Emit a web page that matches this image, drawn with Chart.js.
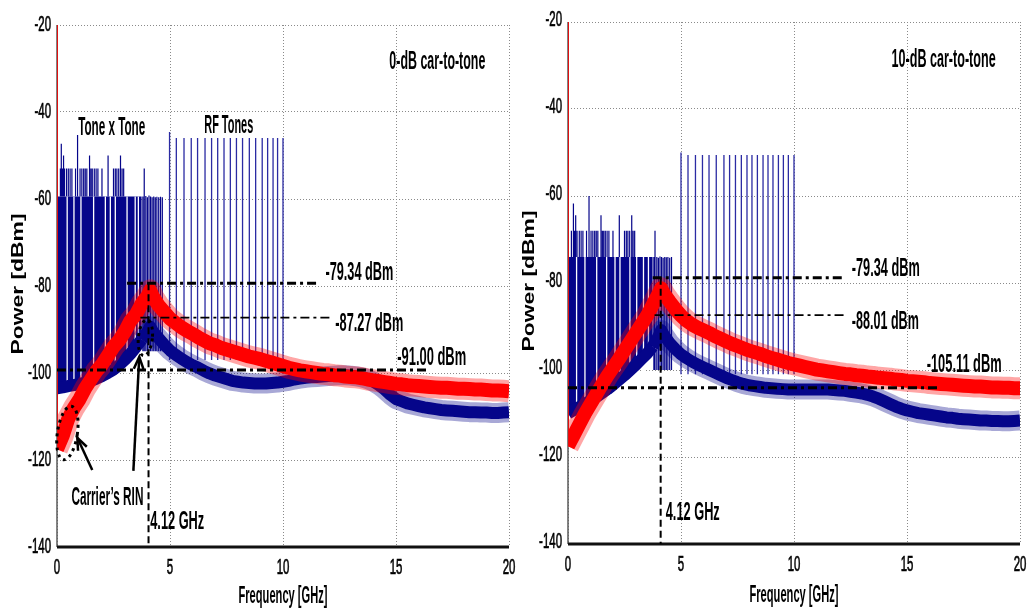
<!DOCTYPE html>
<html>
<head>
<meta charset="utf-8">
<script src="https://cdn.jsdelivr.net/npm/chart.js@4.4.1/dist/chart.umd.min.js"></script>
<style>
  html, body { margin: 0; padding: 0; background: #fff; }
  #wrap { position: relative; width: 1027px; height: 612px; overflow: hidden; background: #fff; }
  canvas { position: absolute; top: 0; }
  #left { left: 0; }
  #right { left: 513px; }
</style>
</head>
<body>
<div id="wrap">
  <canvas id="left" width="520" height="612"></canvas>
  <canvas id="right" width="514" height="612"></canvas>
</div>
<script>
// frequency grid of the spectra, 0.25 GHz steps plus the resonance at 4.12 GHz
const freqGHz = []
for (let i = 0; i <= 80; i++) {
  freqGHz.push(i * 0.25)
  if (i === 16) freqGHz.push(4.12)
}

// 0-dB carrier-to-tone panel, band centres (dBm)
const redLeft = [
  -117.5, -114.5, -110.5, -108, -106, -103.5, -101.5, -99.5, -98, -96, -94, -92.5, -90.5, -88, -86.5, -84, -82.3,
  -81.0,
  -82.5, -84.5, -86, -87.5, -88.5, -89.5, -90.3, -91, -91.8, -92.5, -93.2, -93.6, -94.2, -94.6, -95, -95.4, -95.8, -96.2, -96.5, -96.8, -97.2, -97.6, -98, -98.4,
  -98.8, -99.1, -99.4, -99.6, -99.8, -100, -100.2, -100.3, -100.5, -100.6, -100.8, -100.9, -101, -101.2, -101.5, -101.7, -101.9, -102.1, -102.3, -102.5,
  -102.6, -102.8, -102.9, -103, -103.1, -103.2, -103.3, -103.4, -103.4, -103.5, -103.6, -103.6, -103.7, -103.8, -103.8, -103.9, -104, -104, -104.1, -104.2
]
const blueLeft = [
  -103.5, -103.3, -103, -102.8, -102.5, -102.2, -101.8, -101.3, -100.7, -100, -99.2, -98.2, -97, -95.6, -94, -92.3, -90.5,
  -89.3,
  -90.5, -92, -93.5, -94.8, -95.8, -96.7, -97.5, -98.2, -98.8, -99.5, -100.1, -100.6, -101, -101.4, -101.8, -102, -102.2, -102.3, -102.4, -102.4, -102.4, -102.3, -102.2, -102,
  -101.8, -101.5, -101.3, -101.1, -101, -100.9, -100.8, -100.7, -100.6, -100.5, -100.5, -100.6, -100.8, -101, -101.4, -102, -102.8, -103.8, -105, -106,
  -106.5, -107, -107.3, -107.6, -107.9, -108.1, -108.3, -108.5, -108.6, -108.7, -108.8, -108.9, -109, -109, -109.1, -109.1, -109.2, -109.2, -109.1, -109
]

// 10-dB carrier-to-tone panel
const redRight = [
  -117.5, -115, -112.5, -110, -107.8, -105.6, -103.4, -101.3, -99.4, -97.5, -95.5, -93.5, -91.5, -89.5, -87.5, -85, -82.5,
  -81.2,
  -82.5, -84.3, -86, -87.5, -88.7, -89.6, -90.3, -90.9, -91.5, -92.2, -92.8, -93.4, -94, -94.5, -95, -95.5, -95.9, -96.3, -96.8, -97.2, -97.6, -98, -98.4, -98.7,
  -99, -99.3, -99.6, -99.9, -100.1, -100.3, -100.5, -100.7, -100.9, -101, -101.2, -101.3, -101.5, -101.6, -101.8, -101.9, -102, -102.2, -102.3, -102.5,
  -102.6, -102.7, -102.8, -103, -103.1, -103.2, -103.3, -103.4, -103.5, -103.6, -103.7, -103.8, -103.8, -103.9, -104, -104, -104.1, -104.1, -104.2, -104.2
]
const blueRight = [
  -110, -109.2, -108.5, -107.8, -107, -106.2, -105.3, -104.4, -103.4, -102.3, -101.2, -100, -98.8, -97.5, -96.2, -94.6, -92.3,
  -90.8,
  -92, -93.8, -95.2, -96.4, -97.3, -98.1, -98.8, -99.4, -100, -100.6, -101.2, -101.8, -102.3, -102.8, -103.2, -103.5, -103.7, -103.9, -104.1, -104.2, -104.3, -104.4, -104.5, -104.5,
  -104.5, -104.5, -104.5, -104.5, -104.5, -104.5, -104.6, -104.7, -104.8, -105, -105.2, -105.4, -105.7, -106.1, -106.6, -107.2, -107.8, -108.4, -108.9, -109.3,
  -109.6, -109.9, -110.1, -110.3, -110.5, -110.7, -110.9, -111, -111.2, -111.3, -111.4, -111.5, -111.6, -111.6, -111.7, -111.7, -111.8, -111.8, -111.7, -111.6
]

// RF tones
const rfFreqLeft = [4.98, 5.28, 5.62, 5.94, 6.22, 6.55, 6.84, 7.11, 7.39, 7.67, 7.94, 8.21, 8.51, 8.79, 9.08, 9.32, 9.56, 9.76, 10.0]
const rfLevelLeft = [-44.6, -46, -46, -46, -46, -46, -46, -46, -46, -46, -46, -46, -46, -46, -46, -46, -46, -46, -46]
const rfFreqRight = [5.0, 5.31, 5.64, 5.95, 6.24, 6.56, 6.9, 7.15, 7.41, 7.67, 7.92, 8.14, 8.38, 8.63, 8.85, 9.07, 9.31, 9.53, 9.75, 10.0]
const rfLevelRight = [-50, -50.6, -50.6, -50.6, -50.6, -50.6, -50.6, -50.6, -50.6, -50.6, -50.6, -50.6, -50.6, -50.6, -50.6, -50.6, -50.6, -50.6, -50.6, -50.6]

// tone x tone products: level of the dense block and the lines standing out of it
const blockTopLeft = -59.4
const blockTopRight = -74
const ttFreqLeft = [0.15, 0.19, 0.22, 0.26, 0.29, 0.33, 0.42, 0.5, 0.58, 0.66, 0.82, 0.91, 1.02, 1.1, 1.18, 1.25, 1.32, 1.44, 1.5, 1.56,
  1.65, 1.73, 1.81, 1.99, 2.26, 2.5, 2.58, 2.65, 2.73, 2.81, 2.88, 2.95, 3.8, 3.86,
  3.93, 4.0, 4.07, 4.14, 4.21, 4.28, 4.35, 4.42, 4.5, 4.58, 4.66]
const ttLevelLeft = [-53, -47.3, -53, -53, -50, -53, -53, -53, -53, -53, -53, -45.3, -53, -53, -53, -53, -53, -50, -53, -53,
  -53, -53, -53, -53, -50, -53, -53, -53, -53, -50, -53, -53, -59.4, -53,
  -59.3, -59.6, -59.2, -59.4, -59.6, -59.4, -59.6, -59.5, -59.6, -59.5, -59.6]
const ttFreqRight = [0.15, 0.24, 0.29, 0.34, 0.4, 0.5, 0.58, 0.66, 0.82, 0.93, 1.02, 1.1, 1.18, 1.25, 1.32, 1.46, 1.52, 1.58,
  1.65, 1.73, 1.81, 1.99, 2.27, 2.5, 2.58, 2.65, 2.73, 2.82, 2.88, 2.95, 3.8, 3.85,
  3.93, 4.0, 4.07, 4.14, 4.21, 4.28, 4.35, 4.42, 4.5, 4.58]
const ttLevelRight = [-68, -61.7, -68, -64.4, -68, -68, -68, -68, -68, -60, -68, -68, -68, -68, -68, -64.4, -68, -68,
  -68, -68, -68, -68, -64.4, -68, -68, -68, -68, -64.4, -68, -68, -74, -68,
  -74, -74.2, -73.9, -74, -74.2, -74, -74.1, -74, -74.2, -74]

// white gaps inside the dense tone block
const gapFreqLeft = [0.45, 0.75, 1.06, 1.62, 2.14, 2.36, 2.58, 3.1, 3.46, 3.6]
const gapFreqRight = [0.38, 0.75, 1.27, 1.71, 2.08, 2.3, 2.74, 3.04, 3.34, 3.56]

const FONT = "'Liberation Sans Narrow','Liberation Sans',sans-serif"
const NAVY = "#05058a"
const BLOCK_END = 3.75

function fitText(ctx, str, x, y, size, width, bold, rot) {
  ctx.save()
  ctx.font = (bold ? "bold " : "") + size + "px " + FONT
  const sx = width / ctx.measureText(str).width
  ctx.translate(x, y)
  if (rot) ctx.rotate(rot)
  ctx.scale(sx, 1)
  ctx.textAlign = "center"
  ctx.textBaseline = "middle"
  ctx.fillStyle = "#000"
  ctx.fillText(str, 0, 0)
  ctx.restore()
}

function squeezeText(ctx, str, x, y, size, sx, align) {
  ctx.save()
  ctx.font = size + "px " + FONT
  ctx.translate(x, y)
  ctx.scale(sx, 1)
  ctx.textAlign = align
  ctx.textBaseline = "middle"
  ctx.fillStyle = "#000"
  ctx.strokeStyle = "#000"
  ctx.lineWidth = 0.7
  ctx.fillText(str, 0, 0)
  ctx.strokeText(str, 0, 0)
  ctx.restore()
}

const toneLines = (freqs, levels, floorOf) => {
  const pts = []
  freqs.forEach((f, i) => {
    pts.push({ x: f, y: floorOf(f, levels[i]) }, { x: f, y: levels[i] }, { x: f, y: null })
  })
  return pts
}

const decoPlugin = (p) => ({
  id: "deco",
  beforeDatasetsDraw(chart) {
    const { ctx, chartArea: a } = chart
    ctx.save()
    ctx.strokeStyle = "#5a5a5a"
    ctx.lineWidth = 1.5
    ctx.beginPath()
    ctx.moveTo(a.left, a.top)
    ctx.lineTo(a.left, a.bottom)
    ctx.stroke()
    ctx.strokeStyle = "#111"
    ctx.lineWidth = 3
    ctx.beginPath()
    ctx.moveTo(a.left, a.bottom)
    ctx.lineTo(a.right, a.bottom)
    ctx.stroke()
    ctx.restore()
  },
  afterDatasetsDraw(chart) {
    const { ctx, chartArea: a, scales: { x, y } } = chart
    const px = (f) => x.getPixelForValue(f)
    const py = (v) => y.getPixelForValue(v)
    ctx.save()
    ctx.strokeStyle = "#000"
    ctx.fillStyle = "#000"

    // dash-dot reference levels
    p.refLines.forEach((r) => {
      ctx.lineWidth = r.w
      ctx.setLineDash([9, 4, 3, 4])
      ctx.beginPath()
      ctx.moveTo(px(r.f0), py(r.v))
      ctx.lineTo(px(r.f1), py(r.v))
      ctx.stroke()
    })
    // resonance marker
    ctx.lineWidth = 2
    ctx.setLineDash([7, 4])
    ctx.beginPath()
    ctx.moveTo(px(p.vline.f), py(p.vline.top))
    ctx.lineTo(px(p.vline.f), a.bottom)
    ctx.stroke()

    // dotted ellipses
    ctx.setLineDash([3, 4])
    ctx.lineWidth = 3
    p.ellipses.forEach((e) => {
      ctx.beginPath()
      ctx.ellipse(px(e.f), py(e.v), e.rx, e.ry, e.rot, 0, Math.PI * 2)
      ctx.stroke()
    })
    ctx.setLineDash([])

    // arrows
    ctx.lineWidth = 2.5
    p.arrows.forEach((ar) => {
      const x0 = px(ar.f0), y0 = py(ar.v0), x1 = px(ar.f1), y1 = py(ar.v1)
      const ang = Math.atan2(y1 - y0, x1 - x0)
      ctx.beginPath()
      ctx.moveTo(x0, y0)
      ctx.lineTo(x1, y1)
      ctx.stroke()
      ctx.beginPath()
      ctx.moveTo(x1 - 13 * Math.cos(ang - 0.38), y1 - 13 * Math.sin(ang - 0.38))
      ctx.lineTo(x1, y1)
      ctx.lineTo(x1 - 13 * Math.cos(ang + 0.38), y1 - 13 * Math.sin(ang + 0.38))
      ctx.stroke()
    })

    // annotation texts
    p.texts.forEach((t) => fitText(ctx, t.s, px(t.f), py(t.v), 25, t.w, true))

    // tick labels
    y.ticks.forEach((t) => squeezeText(ctx, String(t.value), a.left - 6, py(t.value) - p.yTickShift, 22, 0.52, "right"))
    x.ticks.forEach((t) => squeezeText(ctx, String(t.value), px(t.value), a.bottom + p.xTickGap, 22, 0.52, "center"))

    // axis titles
    fitText(ctx, "Power [dBm]", p.yTitle.x, p.yTitle.y, 17, 141, true, -Math.PI / 2)
    fitText(ctx, "Frequency [GHz]", (a.left + a.right) / 2, p.xTitleY, 23, 89, true)
    ctx.restore()
  }
})

function drawPanel(p) {
  const ttFloor = (f) => (f > BLOCK_END ? p.combFloor : p.blockTop)
  const redPts = freqGHz.map((f, i) => ({ x: f, y: p.red[i] }))
  const bluePts = freqGHz.map((f, i) => ({ x: f, y: p.blue[i] }))
  const datasets = [
    { data: [{ x: 0, y: p.dcTop }, { x: 0, y: p.red[0] }], borderColor: "#e01010", borderWidth: 2, order: 0 },
    { data: redPts, borderColor: "#ff0000", borderWidth: 14, borderJoinStyle: "round", order: 1 },
    // ragged noise fringe around the red band
    { data: redPts, borderColor: "rgba(255,0,0,0.35)", borderWidth: 22, borderJoinStyle: "round", order: 1.5 },
    // blue noise under the tone block: filled up to the block level
    {
      data: bluePts.filter((pt) => pt.x <= BLOCK_END), borderColor: NAVY, borderWidth: 12, borderJoinStyle: "round",
      backgroundColor: NAVY, fill: { value: p.blockTop }, order: 2
    },
    { data: bluePts.filter((pt) => pt.x >= BLOCK_END), borderColor: NAVY, borderWidth: 12, borderJoinStyle: "round", order: 2 },
    { data: bluePts.filter((pt) => pt.x >= BLOCK_END), borderColor: "rgba(5,5,138,0.35)", borderWidth: 20, borderJoinStyle: "round", order: 2.5 },
    { data: toneLines(p.rfFreq, p.rfLevel, () => p.rfFloor), borderColor: "#2b2ba3", borderWidth: 1.3, spanGaps: false, order: 3 },
    { data: toneLines(p.gapFreq, p.gapFreq.map(() => p.blockTop), () => p.gapFloor), borderColor: "#ffffff", borderWidth: 1.3, spanGaps: false, order: 4 },
    { data: toneLines(p.ttFreq, p.ttLevel, ttFloor), borderColor: NAVY, borderWidth: 1.2, spanGaps: false, order: 5 }
  ]
  const gridOpts = { color: "#8a8a8a", lineWidth: 1, drawTicks: false }
  return new Chart(document.getElementById(p.canvas), {
    type: "line",
    data: { datasets },
    options: {
      responsive: false,
      animation: false,
      events: [],
      layout: { padding: p.pad },
      elements: { point: { radius: 0 }, line: { tension: 0 } },
      plugins: {
        legend: { display: false },
        tooltip: { enabled: false },
        filler: { drawTime: "beforeDatasetsDraw" }
      },
      scales: {
        x: {
          type: "linear", min: 0, max: 20,
          ticks: { display: false, stepSize: 5 },
          grid: gridOpts, border: { display: false, dash: [1, 2] },
          afterFit: (s) => { s.height = 0 }
        },
        y: {
          min: -140, max: -20,
          ticks: { display: false, stepSize: 20 },
          grid: gridOpts, border: { display: false, dash: [1, 2] },
          afterFit: (s) => { s.width = 0 }
        }
      }
    },
    plugins: [decoPlugin(p)]
  })
}

drawPanel({
  canvas: "left",
  pad: { left: 57, right: 11, top: 25, bottom: 65 },
  red: redLeft, blue: blueLeft, dcTop: -20,
  rfFreq: rfFreqLeft, rfLevel: rfLevelLeft, rfFloor: -97,
  ttFreq: ttFreqLeft, ttLevel: ttLevelLeft, blockTop: blockTopLeft, combFloor: -95,
  gapFreq: gapFreqLeft, gapFloor: -106,
  refLines: [
    { v: -79.34, f0: 3.1, f1: 11.56, w: 3 },
    { v: -87.27, f0: 3.69, f1: 12.1, w: 1.8 },
    { v: -99.3, f0: 0, f1: 16.4, w: 3 }
  ],
  vline: { f: 4.05, top: -79.34 },
  ellipses: [
    { f: 0.46, v: -113.8, rx: 10, ry: 27, rot: 0.15 },
    { f: 3.91, v: -91.9, rx: 7, ry: 18, rot: 0.1 }
  ],
  arrows: [
    { f0: 1.56, v0: -122.3, f1: 0.9, v1: -114.9 },
    { f0: 3.38, v0: -122.5, f1: 3.64, v1: -96.3 }
  ],
  texts: [
    { s: "0-dB car-to-tone", f: 16.83, v: -28.5, w: 96 },
    { s: "Tone x Tone", f: 2.42, v: -43.7, w: 67 },
    { s: "RF Tones", f: 7.6, v: -43.3, w: 49 },
    { s: "-79.34 dBm", f: 13.38, v: -77.1, w: 68 },
    { s: "-87.27 dBm", f: 13.82, v: -88.7, w: 68 },
    { s: "-91.00 dBm", f: 16.58, v: -96.5, w: 69 },
    { s: "Carrier\u2019s RIN", f: 2.23, v: -128.8, w: 72 },
    { s: "4.12 GHz", f: 5.32, v: -134.3, w: 54 }
  ],
  yTickShift: 0, xTickGap: 21,
  yTitle: { x: 18, y: 284 }, xTitleY: 597
})

drawPanel({
  canvas: "right",
  pad: { left: 55, right: 7, top: 22, bottom: 68 },
  red: redRight, blue: blueRight, dcTop: -20,
  rfFreq: rfFreqRight, rfLevel: rfLevelRight, rfFloor: -101,
  ttFreq: ttFreqRight, ttLevel: ttLevelRight, blockTop: blockTopRight, combFloor: -100,
  gapFreq: gapFreqRight, gapFloor: -112,
  refLines: [
    { v: -78.8, f0: 3.75, f1: 12.15, w: 3 },
    { v: -87.4, f0: 3.83, f1: 12.24, w: 1.8 },
    { v: -104.1, f0: 0, f1: 16.45, w: 3 }
  ],
  vline: { f: 4.1, top: -78.8 },
  ellipses: [],
  arrows: [],
  texts: [
    { s: "10-dB car-to-tone", f: 16.62, v: -28.7, w: 104 },
    { s: "-79.34 dBm", f: 14.06, v: -76.8, w: 68 },
    { s: "-88.01 dBm", f: 14.04, v: -89, w: 67 },
    { s: "-105.11 dBm", f: 17.53, v: -98.9, w: 75 },
    { s: "4.12 GHz", f: 5.52, v: -132.9, w: 54 }
  ],
  yTickShift: 2, xTickGap: 21,
  yTitle: { x: 16, y: 281 }, xTitleY: 596
})
</script>
</body>
</html>
